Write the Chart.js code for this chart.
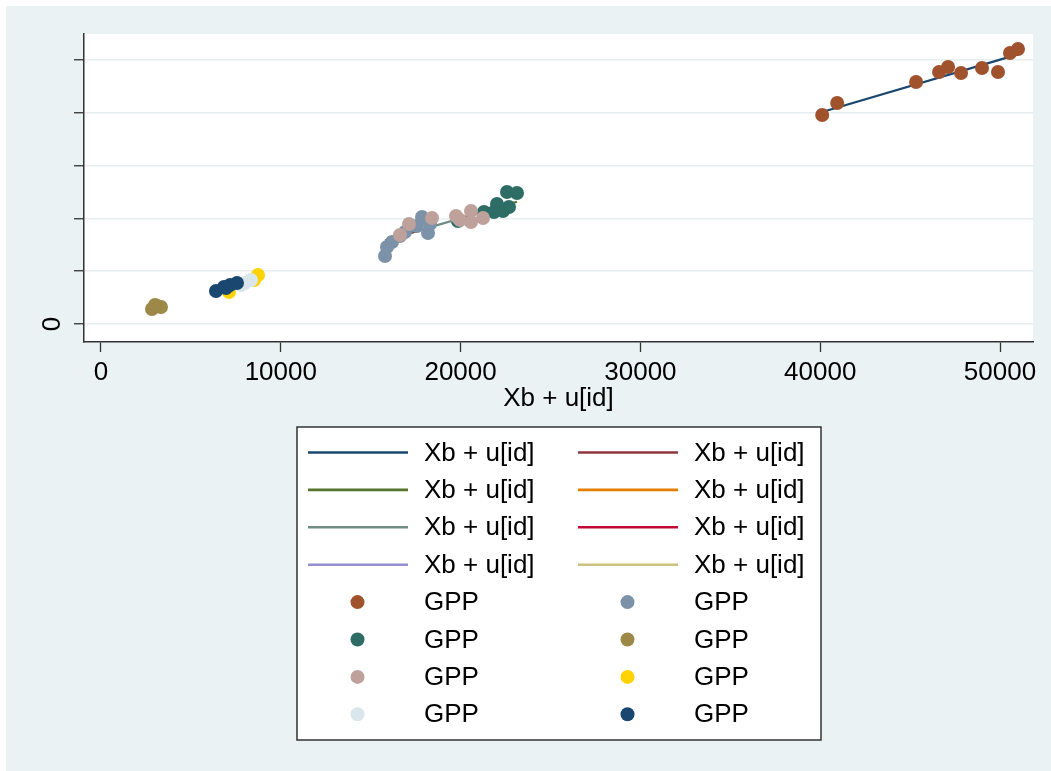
<!DOCTYPE html>
<html>
<head>
<meta charset="utf-8">
<script src="https://cdn.jsdelivr.net/npm/chart.js@4.4.1/dist/chart.umd.min.js"></script>
<style>
  html, body { margin: 0; padding: 0; background: #fff; }
  #wrap { width: 1051px; height: 771px; }
</style>
</head>
<body>
<div id="wrap"><canvas id="c" width="1051" height="771"></canvas></div>
<script>
// x: fitted value (Xb + u[id]), y: GPP, one group per id
const xTicks = [0, 10000, 20000, 30000, 40000, 50000];
const xTickLabels = ["0", "10000", "20000", "30000", "40000", "50000"];
const yTicks = [0, 10000, 20000, 30000, 40000, 50000];
const yTickLabels = ["0", "", "", "", "", ""];

const lineLabel = "Xb + u[id]";
const pointLabel = "GPP";

// stata s2color order
const lineColors = ["#1a476f", "#90353b", "#55752f", "#e37e00", "#6e8e84", "#c10534", "#938dd2", "#cac27e"];
const pointColors = ["#a0522d", "#7b92a8", "#2d6d66", "#9c8847", "#bfa19c", "#ffd200", "#d9e6eb", "#1a476f"];

// fitted line for each id (start, end)
const fitX = [
  [40110, 51000], [15800, 18300], [19860, 23140], [2840, 3340],
  [16630, 21250], [7120, 8730], [7790, 8340], [6400, 7560]
];
const fitY = [
  [40110, 51000], [15800, 18300], [19860, 23140], [2840, 3340],
  [16630, 21250], [7120, 8730], [7790, 8340], [6400, 7560]
];

// observed GPP
const gppX = [
  [40110, 40944, 45333, 46611, 47111, 47833, 49000, 49889, 50556, 51000],
  [15796, 15907, 16185, 16630, 16908, 17186, 17576, 17854, 18188, 18299],
  [19857, 21302, 21858, 22025, 22359, 22693, 22582, 23138],
  [2837, 3115, 3337, 3003],
  [16630, 17131, 18410, 19745, 19968, 20579, 20579, 21246],
  [8732, 7119, 8510],
  [8009, 8343, 7787],
  [6396, 6841, 7175, 7564, 6953]
];
const gppY = [
  [39543, 41813, 45786, 47678, 48624, 47489, 48435, 47678, 51273, 52030],
  [12866, 14568, 15514, 16650, 17406, 18542, 18542, 20244, 17217, 18920],
  [19488, 21190, 21190, 22704, 21380, 22136, 24974, 24785],
  [2838, 3406, 3216, 3595],
  [16839, 18920, 20055, 20434, 19677, 21380, 19298, 20055],
  [9271, 6054, 8325],
  [7757, 8325, 7379],
  [6244, 7000, 7379, 7757, 6811]
];

const FONT = '"Liberation Sans", Arial, sans-serif';
const BG = "#eaf2f3";

const datasets = [];
lineColors.forEach((col, i) => {
  datasets.push({
    type: "scatter",
    label: lineLabel,
    data: fitX[i].map((x, j) => ({ x: x, y: fitY[i][j] })),
    showLine: true,
    borderColor: col,
    borderWidth: 2.2,
    pointRadius: 0,
    pointHoverRadius: 0,
    order: 20,
    kind: "line"
  });
});
pointColors.forEach((col, i) => {
  datasets.push({
    type: "scatter",
    label: pointLabel,
    data: gppX[i].map((x, j) => ({ x: x, y: gppY[i][j] })),
    backgroundColor: col,
    borderWidth: 0,
    pointRadius: 7,
    pointHoverRadius: 7,
    order: 8 - i,
    kind: "point"
  });
});

const background = {
  id: "background",
  beforeDraw(chart) {
    const { ctx, chartArea: a } = chart;
    ctx.save();
    ctx.fillStyle = "#fff";
    ctx.fillRect(0, 0, chart.width, chart.height);
    ctx.fillStyle = BG;
    ctx.fillRect(6, 6, chart.width - 6, chart.height - 6);
    ctx.fillStyle = "#fff";
    ctx.fillRect(a.left, a.top, a.right - a.left, a.bottom - a.top);
    ctx.restore();
  }
};

// two-column legend box under the plot, like stata
const boxLegend = {
  id: "boxLegend",
  afterDraw(chart) {
    const ctx = chart.ctx;
    const ds = chart.data.datasets;
    const left = 297, top = 427, right = 821, bottom = 740;
    ctx.save();
    ctx.fillStyle = "#fff";
    ctx.fillRect(left, top, right - left, bottom - top);
    ctx.strokeStyle = "#333";
    ctx.lineWidth = 1.5;
    ctx.strokeRect(left, top, right - left, bottom - top);
    ctx.font = "26px " + FONT;
    ctx.textBaseline = "middle";
    ctx.textAlign = "left";
    ds.forEach((d, i) => {
      const col = i % 2, row = Math.floor(i / 2);
      const dx = col * 270;
      const y = 452.5 + row * 37.4;
      if (d.kind === "line") {
        ctx.strokeStyle = d.borderColor;
        ctx.lineWidth = 2.6;
        ctx.beginPath();
        ctx.moveTo(308 + dx, y);
        ctx.lineTo(408 + dx, y);
        ctx.stroke();
      } else {
        ctx.fillStyle = d.backgroundColor;
        ctx.beginPath();
        ctx.arc(357.5 + dx, y, 7, 0, Math.PI * 2);
        ctx.fill();
      }
      ctx.fillStyle = "#000";
      ctx.fillText(d.label, 424 + dx, y + 1);
    });
    ctx.restore();
  }
};

new Chart(document.getElementById("c"), {
  type: "scatter",
  data: { datasets: datasets },
  plugins: [background, boxLegend],
  options: {
    responsive: false,
    animation: false,
    events: [],
    layout: { padding: { left: 0, top: 34, right: 18, bottom: 349 } },
    plugins: { legend: { display: false }, tooltip: { enabled: false } },
    scales: {
      x: {
        type: "linear",
        min: -945,
        max: 51835,
        afterFit: (s) => { s.height = 80; },
        afterBuildTicks: (s) => { s.ticks = xTicks.map((v) => ({ value: v })); },
        ticks: {
          autoSkip: false,
          maxRotation: 0,
          padding: 5,
          color: "#000",
          font: { family: FONT, size: 26 },
          callback: (v) => xTickLabels[xTicks.indexOf(v)]
        },
        grid: { drawOnChartArea: false, tickLength: 10, tickColor: "#333", tickWidth: 1.3 },
        border: { color: "#333", width: 1.5 },
        title: {
          display: true,
          text: lineLabel,
          color: "#000",
          font: { family: FONT, size: 26 },
          padding: { top: 0, bottom: 8 }
        }
      },
      y: {
        type: "linear",
        min: -3405,
        max: 54862,
        afterFit: (s) => { s.width = 84; },
        afterBuildTicks: (s) => { s.ticks = yTicks.map((v) => ({ value: v })); },
        ticks: {
          autoSkip: false,
          minRotation: 90,
          maxRotation: 90,
          crossAlign: "center",
          padding: 14,
          color: "#000",
          font: { family: FONT, size: 26 },
          callback: (v) => yTickLabels[yTicks.indexOf(v)]
        },
        grid: { color: "#e6eef0", lineWidth: 1.5, tickLength: 10, tickColor: "#333", tickWidth: 1.3 },
        border: { color: "#333", width: 1.5 }
      }
    }
  }
});
</script>
</body>
</html>
